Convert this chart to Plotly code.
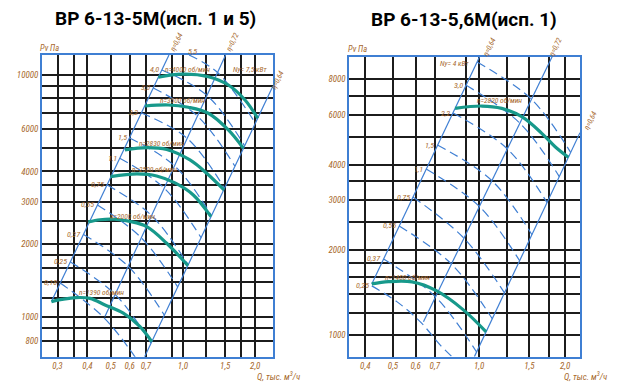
import numpy as np
import plotly.graph_objects as go

W, H = 627, 386

# ---------------- ВР 6-13-5М (left chart) ----------------
L_n1390_q = [0.283, 0.313, 0.358, 0.410, 0.473, 0.564, 0.662, 0.741]
L_n1390_p = [1160, 1184, 1205, 1196, 1124, 1039, 915, 793]
L_n2000_q = [0.403, 0.451, 0.516, 0.601, 0.706, 0.855, 1.049]
L_n2000_p = [2474, 2526, 2538, 2486, 2366, 2020, 1633]
L_n2500_q = [0.499, 0.643, 0.777, 0.926, 1.104, 1.308]
L_n2500_p = [3804, 3903, 3830, 3584, 3197, 2602]
L_n2830_q = [0.573, 0.706, 0.855, 1.069, 1.255, 1.482]
L_n2830_p = [4904, 5012, 4927, 4459, 3929, 3353]
L_n3500_q = [0.695, 0.868, 1.052, 1.275, 1.545, 1.784]
L_n3500_p = [7447, 7519, 7356, 6950, 5929, 4983]
L_n4000_q = [0.789, 0.988, 1.275, 1.545, 1.813, 2.048]
L_n4000_p = [9784, 10077, 9840, 9094, 7884, 6626]

L_eta64a_q = [0.283, 0.874]
L_eta64a_p = [1160, 12090]
L_eta72_q = [0.473, 1.505]
L_eta72_p = [1006, 12090]
L_eta64b_q = [0.692, 2.371]
L_eta64b_p = [687, 9007]

L_power_lab = ["0,18", "0,25", "0,37", "0,55", "0,75", "1,1", "1,5", "2,2", "3,0", "4,0", "5,5"]
L_power_q = [[0.308, 0.470, 0.640], [0.3395, 0.522, 0.736], [0.385, 0.591, 0.836],
             [0.440, 0.670, 0.950], [0.483, 0.740, 1.051], [0.545, 0.835, 1.189],
             [0.599, 0.922, 1.315], [0.671, 1.041, 1.489], [0.752, 1.149, 1.646],
             [0.817, 1.259, 1.806], [1.060, 1.393, 2.002]]
L_power_p = [[1385, 992, 672], [1691, 1241, 782], [2196, 1623, 1020],
             [2908, 2127, 1334], [3516, 2628, 1645], [4531, 3413, 2131],
             [5495, 4217, 2628], [6970, 5477, 3405], [8837, 6767, 4201],
             [10486, 8236, 5104], [12090, 10235, 6328]]

L_xgrid = [0.3, 0.35, 0.4, 0.5, 0.6, 0.7, 0.9, 1.0, 1.25, 1.5, 1.75, 2.0]
L_xlab = ["0,3", " ", "0,4", "0,5", "0,6", "0,7", " ", "1,0", " ", "1,5", " ", "2,0"]
L_ygrid = [800, 900, 1000, 1200, 1400, 1600, 1800, 2000, 2500, 3000, 3500, 4000,
           5000, 6000, 7000, 8000, 9000, 10000]
L_ylab = ["800", " ", "1000", " ", " ", " ", " ", "2000", " ", "3000", " ", "4000",
          " ", "6000", " ", " ", " ", "10000"]

# ---------------- ВР 6-13-5,6М (right chart) ----------------
R_n1400_q = [0.4215, 0.482, 0.583, 0.711, 0.881, 1.058]
R_n1400_p = [1514, 1542, 1539, 1430, 1226, 1025]
R_n2820_q = [0.824, 1.022, 1.200, 1.410, 1.656, 1.844, 2.052]
R_n2820_p = [6318, 6437, 6318, 5900, 5155, 4623, 4241]

R_eta64a_q = [0.4215, 1.004]
R_eta64a_p = [1514, 9616]
R_eta72_q = [0.639, 1.800]
R_eta72_p = [1114, 9616]
R_eta64b_q = [0.963, 2.253]
R_eta64b_p = [838, 5183]

R_power_lab = ["0,25", "0,37", "0,55", "0,75", "1,1", "1,5", "2,2", "3,0", ""]
R_power_q = [[0.4215, 0.5156, 0.622, 0.7305, 0.803], [0.4636, 0.7036, 0.980],
             [0.5255, 0.800, 1.112], [0.587, 0.885, 1.227], [0.653, 1.002, 1.386],
             [0.715, 1.108, 1.530], [0.811, 1.255, 1.728], [0.898, 1.388, 1.907],
             [0.984, 1.524, 2.090]]
R_power_p = [[1490, 1311, 1114, 922, 838], [1855, 1363, 870],
             [2426, 1781, 1140], [3071, 2197, 1408], [3856, 2845, 1828],
             [4688, 3509, 2259], [6079, 4544, 2934], [7636, 5602, 3625],
             [9204, 6803, 4411]]

R_xgrid = [0.4, 0.5, 0.6, 0.7, 0.9, 1.0, 1.25, 1.5, 1.75, 2.0]
R_xlab = ["0,4", "0,5", "0,6", "0,7", " ", "1,0", " ", "1,5", " ", "2,0"]
R_ygrid = [1000, 1200, 1400, 1600, 1800, 2000, 2500, 3000, 3500, 4000, 5000,
           6000, 7000, 8000]
R_ylab = ["1000", " ", " ", " ", " ", "2000", " ", "3000", " ", "4000", " ", "6000", " ", "8000"]

# ---------------- styling ----------------
TEAL = "#17998b"
BLUE = "#3f7fd3"
BROWN = "#a7692d"
GRID = "#1c1c1c"
FONT = "Liberation Sans Narrow, Roboto Condensed, Liberation Sans, Arial, sans-serif"

fig = go.Figure()


def line(q, p, ax, color, width, dash="solid", spline=False):
    fig.add_trace(go.Scatter(
        x=q, y=p, mode="lines", xaxis=ax[0], yaxis=ax[1],
        line=dict(color=color, width=width, dash=dash,
                  shape="spline" if spline else "linear", smoothing=1.0),
        hoverinfo="skip", showlegend=False))


LA = ("x", "y")
RA = ("x2", "y2")
DASH = "9px,5px"

for q, p in zip(L_power_q, L_power_p):
    line(q, p, LA, BLUE, 1.2, DASH, True)
for q, p in zip(R_power_q, R_power_p):
    line(q, p, RA, BLUE, 1.2, DASH, True)

for q, p in [(L_eta64a_q, L_eta64a_p), (L_eta72_q, L_eta72_p), (L_eta64b_q, L_eta64b_p)]:
    line(q, p, LA, BLUE, 1.2)
for q, p in [(R_eta64a_q, R_eta64a_p), (R_eta72_q, R_eta72_p), (R_eta64b_q, R_eta64b_p)]:
    line(q, p, RA, BLUE, 1.2)

for q, p in [(L_n1390_q, L_n1390_p), (L_n2000_q, L_n2000_p), (L_n2500_q, L_n2500_p),
             (L_n2830_q, L_n2830_p), (L_n3500_q, L_n3500_p), (L_n4000_q, L_n4000_p)]:
    line(q, p, LA, TEAL, 3.2, spline=True)
for q, p in [(R_n1400_q, R_n1400_p), (R_n2820_q, R_n2820_p)]:
    line(q, p, RA, TEAL, 3.2, spline=True)

ann = []
small = dict(family=FONT, size=8, color=BROWN, style="italic")


def px_text(text, x, y, size=8, angle=0, xanchor="center", color=BROWN, style="italic", weight="normal", family=FONT):
    ann.append(dict(text=text, x=x / W, y=1 - y / H, xref="paper", yref="paper",
                    showarrow=False, xanchor=xanchor, yanchor="middle", textangle=angle,
                    font=dict(family=family, size=size, color=color, style=style, weight=weight)))


def data_label(text, q, p, xr, yr):
    ann.append(dict(text=text, x=np.log10(q), y=np.log10(p), xref=xr, yref=yr,
                    showarrow=False, xanchor="right", yanchor="middle", xshift=-1,
                    font=small))


for lab, q, p in zip(L_power_lab[:-1], L_power_q[:-1], L_power_p[:-1]):
    data_label(lab, q[0], p[0], "x", "y")
for lab, q, p in zip(R_power_lab, R_power_q, R_power_p):
    if lab:
        data_label(lab, q[0], p[0], "x2", "y2")

# titles
px_text("ВР 6-13-5М(исп. 1 и 5)", 155, 19, size=19, color="black", style="normal",
        weight="bold", family="Roboto, Liberation Sans, sans-serif")
px_text("ВР 6-13-5,6М(исп. 1)", 464, 20, size=19, color="black", style="normal",
        weight="bold", family="Roboto, Liberation Sans, sans-serif")

# axis titles
px_text("Pv Па", 49, 48, size=8.5)
px_text("Pv Па", 357, 49, size=8.5)
px_text("Q, тыс. м<sup>3</sup>/ч", 278, 376, size=9)
px_text("Q, тыс. м<sup>3</sup>/ч", 585, 376, size=9)

# left chart labels
px_text("5,5", 192, 51, size=8)
px_text("n=1390 об/мин", 77, 292, size=7.5, xanchor="left")
px_text("n=2000 об/мин.", 108, 216, size=7.5, xanchor="left")
px_text("n=2500 об/мин", 130, 169, size=7.5, xanchor="left")
px_text("n=2830 об/мин", 137, 143, size=7.5, xanchor="left")
px_text("n=3500 об/мин", 158, 100, size=7.5, xanchor="left")
px_text("n=4000 об/мин", 163, 70, size=7.5, xanchor="left")
px_text("Ny= 7,5 кВт", 231, 70, size=7.5, xanchor="left")
px_text("η=0,64", 177, 42, size=7.5, angle=-64)
px_text("η=0,72", 233, 42, size=7.5, angle=-64)
px_text("η=0,64", 278, 80, size=7.5, angle=-64)

# right chart labels
px_text("n=1400 об/мин", 383, 277, size=7.5, xanchor="left")
px_text("n=2820 об/мин", 475, 100, size=7.5, xanchor="left")
px_text("Ny= 4 кВт", 438, 63, size=7.5, xanchor="left")
px_text("η=0,64", 490, 47, size=7.5, angle=-64)
px_text("η=0,72", 556, 47, size=7.5, angle=-64)
px_text("η=0,64", 590, 120, size=7.5, angle=-64)

tickfont = dict(family=FONT, size=9, color=BROWN, style="italic")
common = dict(type="log", showgrid=True, gridcolor=GRID, gridwidth=1.5,
              showline=True, linecolor=BLUE, linewidth=1.6, mirror=True,
              zeroline=False, ticks="", tickfont=tickfont, tickmode="array",
              fixedrange=True)

yb, yt = 1 - 356.7 / H, 1 - 55 / H
fig.update_layout(
    width=W, height=H, autosize=False,
    margin=dict(l=0, r=0, t=0, b=0),
    paper_bgcolor="white", plot_bgcolor="white",
    showlegend=False,
    xaxis=dict(common, domain=[42 / W, 273 / W], range=[-0.5875, 0.375],
               tickvals=L_xgrid, ticktext=L_xlab, anchor="y"),
    yaxis=dict(common, domain=[yb, yt], range=[2.837, 4.0825],
               tickvals=L_ygrid, ticktext=L_ylab, anchor="x"),
    xaxis2=dict(common, domain=[349.3 / W, 580 / W], range=[-0.4538, 0.3528],
                tickvals=R_xgrid, ticktext=R_xlab, anchor="y2"),
    yaxis2=dict(common, domain=[yb, 1 - 56.7 / H], range=[2.923, 3.983],
                tickvals=R_ygrid, ticktext=R_ylab, anchor="x2"),
    annotations=ann,
)

fig.write_html("out.html", config={"displayModeBar": False},
               post_script="document.body.style.margin='0';document.body.style.overflow='hidden';")
